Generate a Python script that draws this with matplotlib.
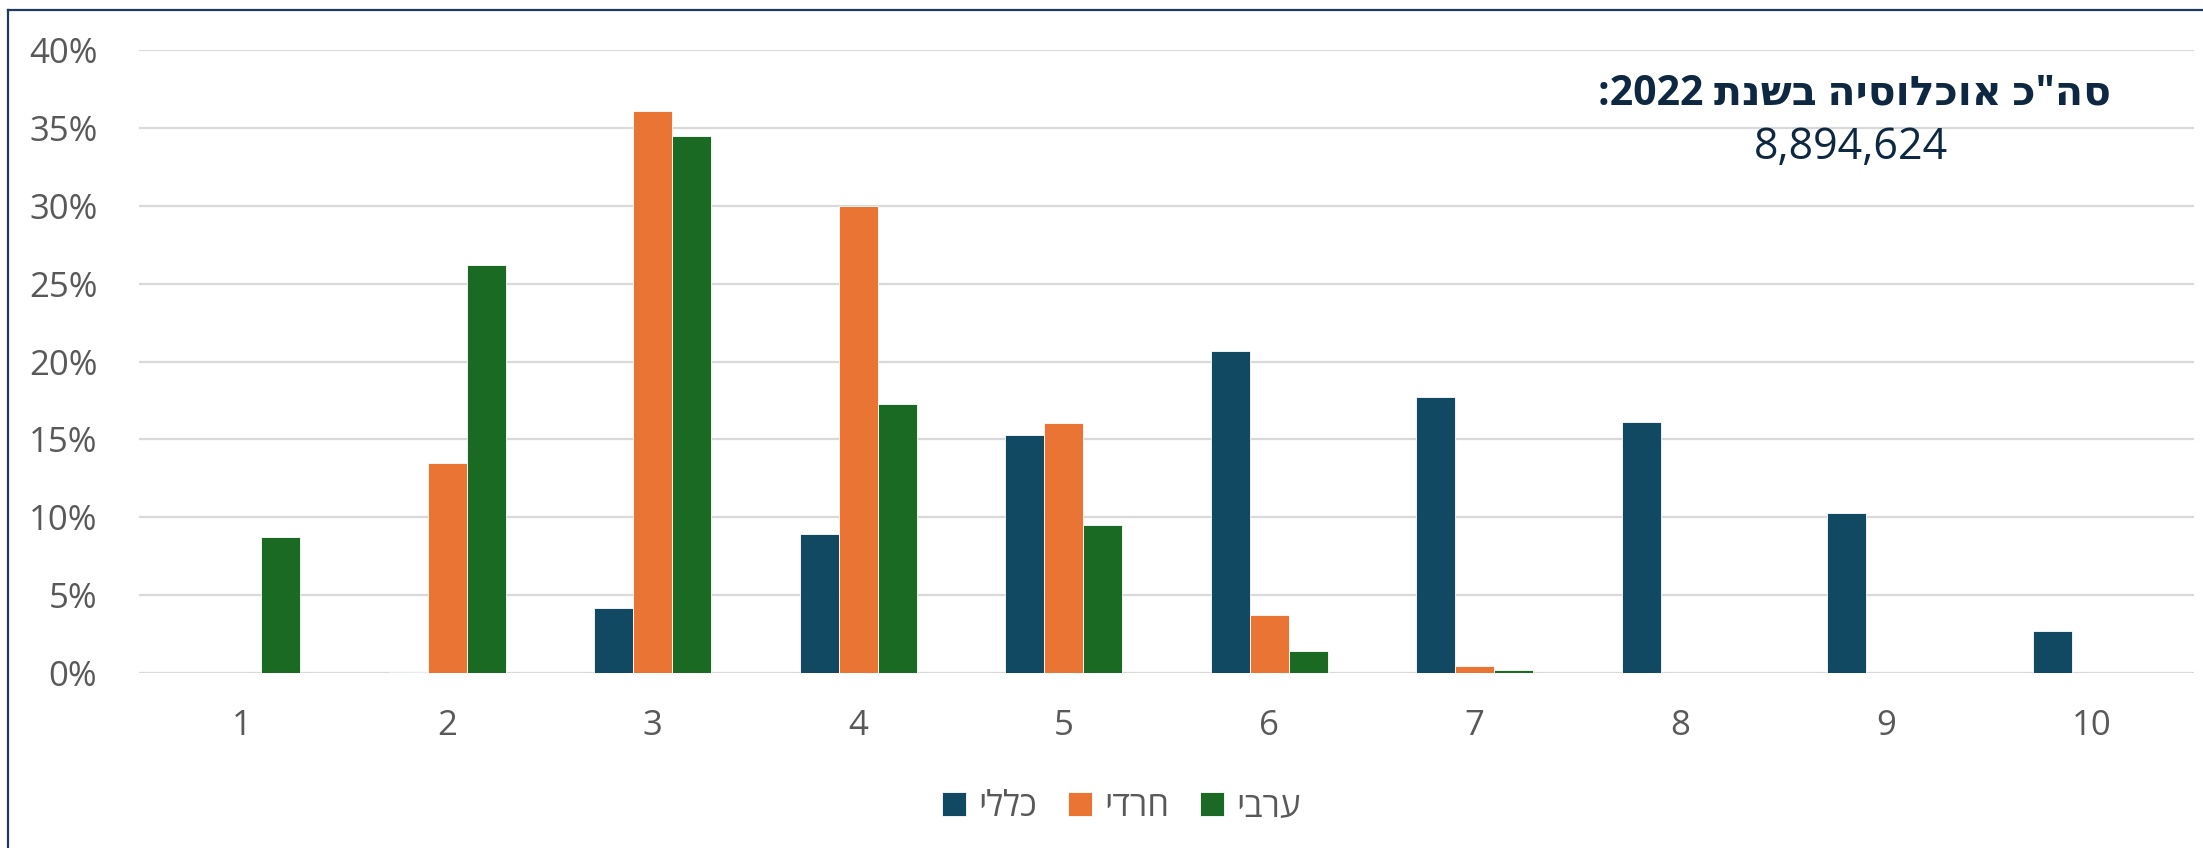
import numpy as np
import matplotlib
matplotlib.use('Agg')
import matplotlib.pyplot as plt
from matplotlib.lines import Line2D

plt.rcParams['font.family'] = ['Open Sans', 'DejaVu Sans']

# נתונים (אחוזים)
categories = ['1', '2', '3', '4', '5', '6', '7', '8', '9', '10']
klali = [0.0, 0.05, 4.14, 8.9, 15.25, 20.7, 17.7, 16.1, 10.25, 2.72]
haredi = [0.0, 13.5, 36.1, 30.0, 16.05, 3.7, 0.43, 0.0, 0.0, 0.0]
aravi = [8.76, 26.2, 34.5, 17.3, 9.52, 1.44, 0.21, 0.0, 0.0, 0.0]

# matplotlib לא הופך טקסט מימין לשמאל - הסדר הפוך ידנית
series_names = ['יללכ', 'ידרח', 'יברע']
colors = ['#114862', '#EA7434', '#1B6A24']
title_text = ':2022 תנשב היסולכוא כ"הס'
total_text = '8,894,624'

fig = plt.figure(figsize=(22.03, 8.48), dpi=100)
ax = fig.add_axes([0.0631, 0.2064, 0.9328, 0.7346])

x = np.arange(len(categories))
w = 0.19
for i, (vals, name, c) in enumerate(zip([klali, haredi, aravi], series_names, colors)):
    ax.bar(x + (i - 1) * w, vals, width=w, color=c, label=name,
           edgecolor='white', linewidth=0.6, zorder=3)

ax.set_xlim(-0.5, len(categories) - 0.5)
ax.set_ylim(0, 40)
ax.set_yticks(range(0, 41, 5))
ax.set_yticklabels([f'{v}%' for v in range(0, 41, 5)])
ax.set_xticks(x)
ax.set_xticklabels(categories)
ax.tick_params(axis='y', length=0, pad=30, labelsize=25, labelcolor='#595959')
ax.tick_params(axis='x', length=0, pad=26, labelsize=25, labelcolor='#595959')
ax.grid(axis='y', color='#D9D9D9', linewidth=1.6, zorder=0)
for s in ax.spines.values():
    s.set_visible(False)

fig.text(0.842, 0.889, title_text, ha='center', va='center', fontsize=29.5,
         fontweight='bold', color='#0E2841')
fig.text(0.840, 0.826, total_text, ha='center', va='center', fontsize=31,
         color='#0E2841')

fig.legend(loc='center', bbox_to_anchor=(0.509, 0.048), ncol=3, frameon=False,
           fontsize=25, labelcolor='#595959', handlelength=0.68, handleheight=0.68,
           handletextpad=0.35, columnspacing=0.9)

# מסגרת כהה בצד שמאל ולמעלה
fig.add_artist(Line2D([8 / 2203, 8 / 2203], [0, 1 - 10 / 848], color='#1F3A5F', linewidth=1.6))
fig.add_artist(Line2D([8 / 2203, 1], [1 - 10 / 848, 1 - 10 / 848], color='#1F3A5F', linewidth=1.6))

fig.savefig('out.png', dpi=100)
